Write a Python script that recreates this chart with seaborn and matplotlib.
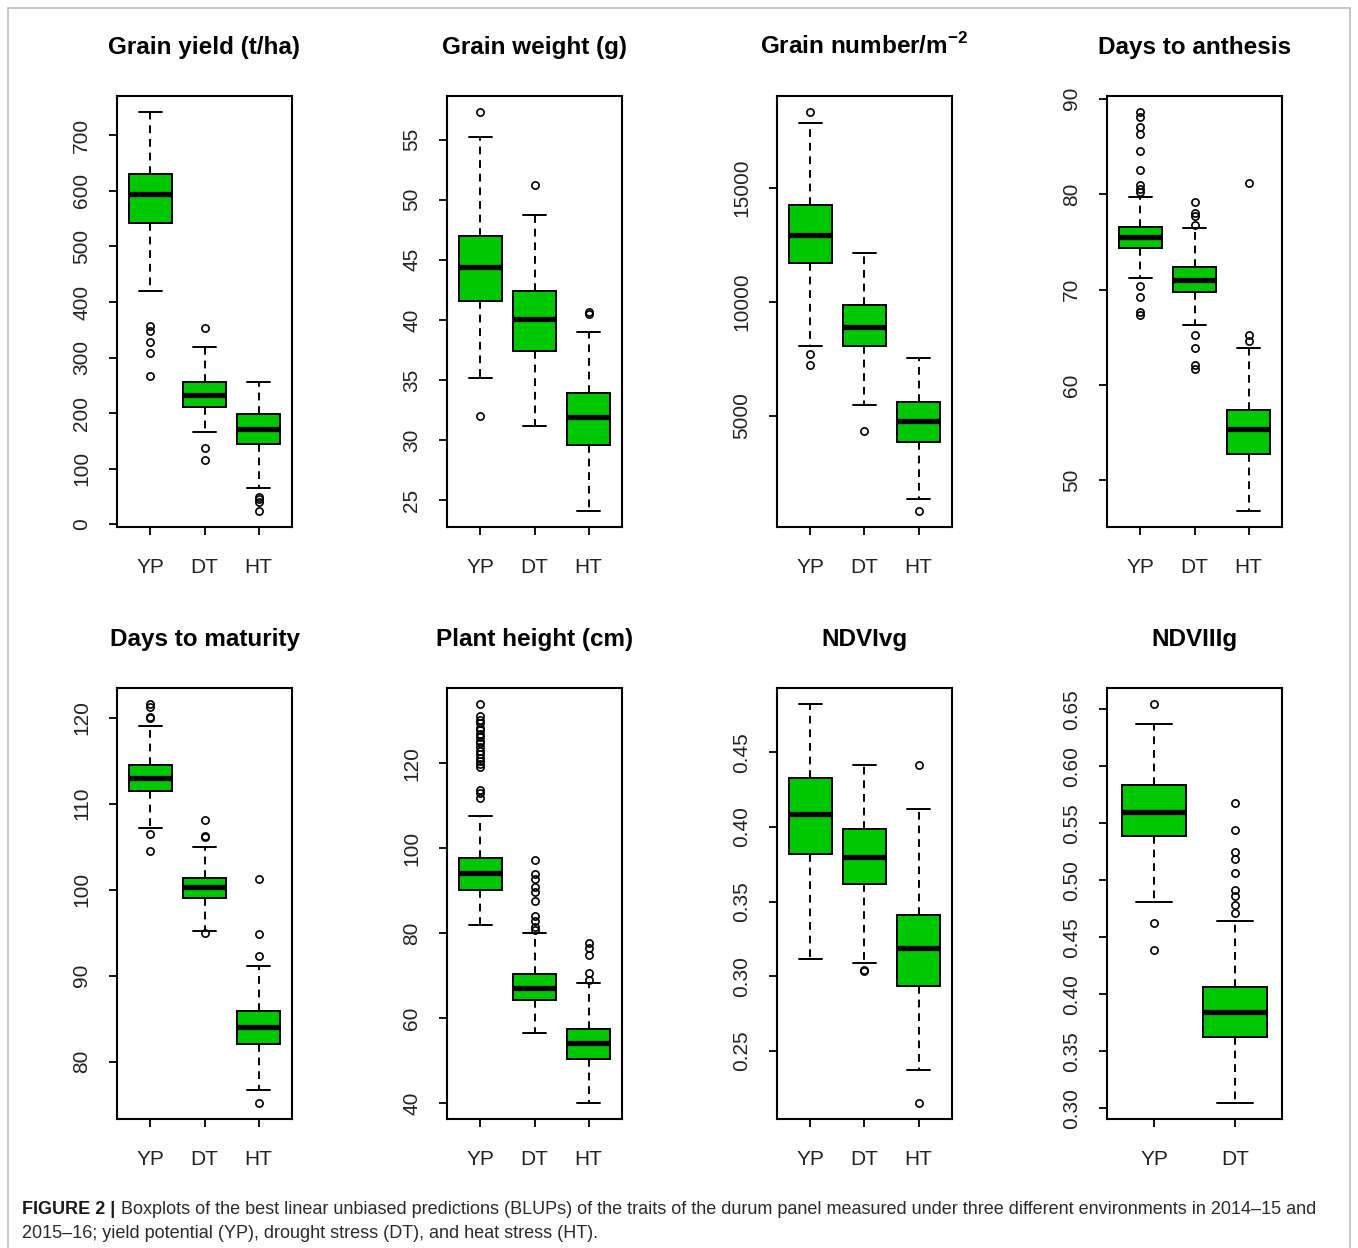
import numpy as np
import matplotlib
matplotlib.use("Agg")
import matplotlib.pyplot as plt
import seaborn as sns
from matplotlib.patches import Rectangle

sns.set_theme(style="white")
plt.rcParams['font.family'] = ['Liberation Sans', 'DejaVu Sans']
plt.rcParams['mathtext.fontset'] = 'custom'
plt.rcParams['mathtext.rm'] = 'Liberation Sans'
plt.rcParams['mathtext.bf'] = 'Liberation Sans:bold'

groups = ["YP", "DT", "HT"]
groups_2 = ["YP", "DT"]

# per group: lower whisker, Q1, median, Q3, upper whisker
yield_stats = [[419, 543, 594, 630, 742], [167, 211, 233, 256, 320], [65, 144, 172, 198, 256]]
yield_out = [[357, 348, 328, 309, 267], [354, 137, 116], [50, 45, 41, 24]]

weight_stats = [[35.2, 41.6, 44.4, 47.0, 55.2], [31.2, 37.4, 40.1, 42.4, 48.7], [24.1, 29.6, 31.9, 33.9, 39.0]]
weight_out = [[57.3, 32.0], [51.2], [40.7, 40.5]]

number_stats = [[8060, 11710, 12960, 14260, 17870], [5490, 8070, 8890, 9870, 12150], [1330, 3830, 4770, 5600, 7550]]
number_out = [[18340, 7710, 7240], [4340], [820]]

anthesis_stats = [[71.2, 74.4, 75.5, 76.6, 79.7], [66.3, 69.7, 71.0, 72.4, 76.4], [46.8, 52.8, 55.4, 57.4, 63.9]]
anthesis_out = [[88.6, 88.1, 87.0, 86.3, 84.5, 82.5, 80.9, 80.5, 80.2, 70.4, 69.2, 67.6, 67.3],
                [79.2, 78.0, 77.7, 76.8, 65.2, 63.9, 62.1, 61.7],
                [81.2, 65.2, 64.6]]

maturity_stats = [[107.2, 111.5, 113.0, 114.5, 119.0], [95.2, 99.05, 100.3, 101.4, 105.0], [76.7, 82.1, 84.0, 85.9, 91.1]]
maturity_out = [[121.6, 121.2, 120.1, 120.0, 106.5, 104.5], [108.1, 106.3, 106.1, 95.0], [101.2, 94.8, 92.3, 75.2]]

height_stats = [[81.9, 90.1, 94.1, 97.7, 107.5], [56.4, 64.2, 67.1, 70.5, 80.0], [40.0, 50.3, 54.1, 57.4, 68.2]]
height_out = [[134.0, 131.1, 130.3, 129.5, 128.4, 127.9, 127.0, 126.3, 125.2, 124.7, 123.8, 122.9, 122.3,
               121.2, 120.6, 119.9, 119.1, 113.8, 113.0, 111.8],
              [97.3, 93.9, 92.8, 90.8, 89.7, 87.6, 84.0, 82.9, 81.5, 80.7],
              [77.6, 76.6, 74.9, 70.7, 69.0]]

ndvivg_stats = [[0.3115, 0.3821, 0.4089, 0.4328, 0.4823], [0.3091, 0.3617, 0.3801, 0.3988, 0.4414],
                [0.2373, 0.2935, 0.3191, 0.3407, 0.4120]]
ndvivg_out = [[], [0.3043, 0.3036], [0.4414, 0.2151]]

ndviiiig_stats = [[0.4806, 0.5391, 0.5600, 0.5838, 0.6375], [0.3047, 0.3625, 0.3844, 0.4063, 0.4647]]
ndviiiig_out = [[0.6547, 0.4625, 0.4390],
                [0.568, 0.5444, 0.525, 0.519, 0.5063, 0.4916, 0.4859, 0.478, 0.4713]]

titles = ["Grain yield (t/ha)", "Grain weight (g)", r"Grain number/m$^{\mathbf{-2}}$", "Days to anthesis",
          "Days to maturity", "Plant height (cm)", "NDVIvg", "NDVIIIg"]

yield_ticks = [0, 100, 200, 300, 400, 500, 600, 700]
weight_ticks = [25, 30, 35, 40, 45, 50, 55]
number_ticks = [5000, 10000, 15000]
anthesis_ticks = [50, 60, 70, 80, 90]
maturity_ticks = [80, 90, 100, 110, 120]
height_ticks = [40, 60, 80, 100, 120]
ndvivg_ticks = [0.25, 0.30, 0.35, 0.40, 0.45]
ndviiiig_ticks = [0.30, 0.35, 0.40, 0.45, 0.50, 0.55, 0.60, 0.65]

GREEN = "#00c800"
W, H = 1358, 1248


def boxpanel(ax, title, names, stats, outs, ticks, fmt):
    bx = [dict(label=n, whislo=s[0], q1=s[1], med=s[2], q3=s[3], whishi=s[4], fliers=o)
          for n, s, o in zip(names, stats, outs)]
    n = len(names)
    ax.bxp(bx, positions=np.arange(1, n + 1), widths=0.8, capwidths=0.44, patch_artist=True,
           boxprops=dict(facecolor=GREEN, edgecolor='black', linewidth=1.4),
           medianprops=dict(color='black', linewidth=3.8, solid_capstyle='butt'),
           whiskerprops=dict(color='black', linewidth=1.4, linestyle=(0, (4, 3))),
           capprops=dict(color='black', linewidth=1.4),
           flierprops=dict(marker='o', markerfacecolor='none', markeredgecolor='black',
                           markersize=5.2, markeredgewidth=1.2))
    ax.set_xlim(0.5 - 0.04 * n, n + 0.5 + 0.04 * n)
    allv = [v for s in stats for v in s] + [v for o in outs for v in o]
    lo, hi = min(allv), max(allv)
    r = hi - lo
    ax.set_ylim(lo - 0.04 * r, hi + 0.04 * r)
    ax.set_yticks(ticks)
    ax.set_yticklabels([fmt.format(t) for t in ticks], rotation=90, va='center')
    ax.set_xticks(np.arange(1, n + 1))
    ax.set_xticklabels(names)
    ax.tick_params(axis='both', direction='out', length=6, width=1.3, labelsize=15,
                   colors='black', labelcolor='#222222', left=True, bottom=True)
    ax.tick_params(axis='y', pad=12.5)
    ax.tick_params(axis='x', pad=16.5)
    for sp in ax.spines.values():
        sp.set_color('black')
        sp.set_linewidth(1.5)
        sp.set_visible(True)
    ax.set_title(title, fontsize=17.5, fontweight='bold', pad=30.5, color='black')
    ax.grid(False)


fig = plt.figure(figsize=(W / 100, H / 100), dpi=100)
fig.patch.set_facecolor('white')

lefts = [117, 447, 777, 1107]
tops = [96, 688]
aw, ah = 175, 431
axes = []
for r in range(2):
    for c in range(4):
        axes.append(fig.add_axes([lefts[c] / W, 1 - (tops[r] + ah) / H, aw / W, ah / H]))

boxpanel(axes[0], titles[0], groups, yield_stats, yield_out, yield_ticks, "{:d}")
boxpanel(axes[1], titles[1], groups, weight_stats, weight_out, weight_ticks, "{:d}")
boxpanel(axes[2], titles[2], groups, number_stats, number_out, number_ticks, "{:d}")
boxpanel(axes[3], titles[3], groups, anthesis_stats, anthesis_out, anthesis_ticks, "{:d}")
boxpanel(axes[4], titles[4], groups, maturity_stats, maturity_out, maturity_ticks, "{:d}")
boxpanel(axes[5], titles[5], groups, height_stats, height_out, height_ticks, "{:d}")
boxpanel(axes[6], titles[6], groups, ndvivg_stats, ndvivg_out, ndvivg_ticks, "{:.2f}")
boxpanel(axes[7], titles[7], groups_2, ndviiiig_stats, ndviiiig_out, ndviiiig_ticks, "{:.2f}")

# outer frame
fig.add_artist(Rectangle((8 / W, -0.01), (1350 - 8) / W, 1 - 8 / H + 0.01, transform=fig.transFigure,
                         fill=False, edgecolor='#bdbdbd', linewidth=1.2))

# caption
cap_font = ['Liberation Sans', 'DejaVu Sans']
t1 = fig.text(22 / W, 1 - 1209 / H, "FIGURE 2 |", fontsize=13, fontweight='bold', family=cap_font,
              color='#1a1a1a', va='center', ha='left')
fig.canvas.draw()
bb = t1.get_window_extent()
fig.text((bb.x1 + 6) / W, 1 - 1209 / H,
         "Boxplots of the best linear unbiased predictions (BLUPs) of the traits of the durum panel "
         "measured under three different environments in 2014\u201315 and",
         fontsize=13, family=cap_font, color='#2a2a2a', va='center', ha='left')
fig.text(22 / W, 1 - 1233 / H,
         "2015\u201316; yield potential (YP), drought stress (DT), and heat stress (HT).",
         fontsize=13, family=cap_font, color='#2a2a2a', va='center', ha='left')

fig.savefig("out.png", dpi=100)
